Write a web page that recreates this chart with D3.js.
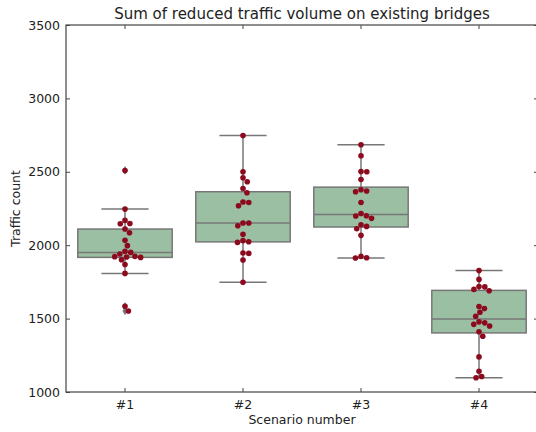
<!DOCTYPE html>
<html>
<head>
<meta charset="utf-8">
<script src="https://cdn.jsdelivr.net/npm/d3@7"></script>
<style>
  body { margin: 0; background: #fff; }
  svg { display: block; font-family: "DejaVu Sans", sans-serif; }
</style>
</head>
<body>
<div id="main"></div>
<script>
// scenario labels
var scenarios = ["#1", "#2", "#3", "#4"];

// traffic counts per scenario
var scenario1 = [2509, 2246, 2169, 2146, 2148, 2110, 2085, 2033, 1997, 1958, 1940,
                 1951, 1922, 1917, 1920, 1924, 1901, 1869, 1808, 1584, 1552];
var scenario2 = [2747, 2500, 2459, 2432, 2386, 2357, 2291, 2269, 2294, 2151, 2133,
                 2151, 2074, 2024, 2019, 2031, 1947, 1944, 1899, 1747];
var scenario3 = [2684, 2609, 2502, 2500, 2448, 2369, 2364, 2378, 2291, 2216, 2199,
                 2183, 2201, 2128, 2112, 2139, 2067, 1915, 1913, 1924];
var scenario4 = [1827, 1767, 1718, 1716, 1699, 1690, 1582, 1568, 1543, 1516, 1478,
                 1471, 1461, 1450, 1410, 1380, 1239, 1141, 1097, 1106];

var yTicks = [1000, 1500, 2000, 2500, 3000, 3500];

var groups = [scenario1, scenario2, scenario3, scenario4];

//Width and height
var w = 536;
var h = 432;
var margin = {top: 25, right: -2, bottom: 40, left: 66};
var innerW = w - margin.left - margin.right;
var innerH = h - margin.top - margin.bottom;

var svg = d3.select("#main")
    .append("svg")
    .attr("width", w)
    .attr("height", h);

var g = svg.append("g")
    .attr("transform", "translate(" + margin.left + "," + margin.top + ")");

var x = d3.scaleBand()
    .domain(scenarios)
    .range([0, innerW])
    .padding(0);

var y = d3.scaleLinear()
    .domain([1000, 3500])
    .range([innerH, 0]);

var boxFill = "#9bbfa2";
var lineCol = "#777777";
var dotCol = "#8c0a1e";
var r = 2.8;

// box stats, like matplotlib (linear quantiles, 1.5 IQR whiskers)
function stats(vals) {
    var s = vals.slice().sort(d3.ascending);
    var q1 = d3.quantileSorted(s, 0.25);
    var med = d3.quantileSorted(s, 0.5);
    var q3 = d3.quantileSorted(s, 0.75);
    var iqr = q3 - q1;
    var lo = d3.min(s.filter(function(v) { return v >= q1 - 1.5 * iqr; }));
    var hi = d3.max(s.filter(function(v) { return v <= q3 + 1.5 * iqr; }));
    var fliers = s.filter(function(v) { return v < lo || v > hi; });
    return {q1: q1, med: med, q3: q3, lo: lo, hi: hi, fliers: fliers};
}

// beeswarm, seaborn style: closest free spot to the center
function swarm(vals) {
    var pts = vals.map(function(v) { return {v: v, py: y(v), dx: 0}; });
    pts.sort(function(a, b) { return a.py - b.py; });
    var d = 2 * r + 0.2;
    var placed = [];
    pts.forEach(function(p) {
        var near = placed.filter(function(q) { return Math.abs(q.py - p.py) < d; });
        var cands = [0];
        near.forEach(function(q) {
            var off = Math.sqrt(d * d - (q.py - p.py) * (q.py - p.py));
            cands.push(q.dx + off, q.dx - off);
        });
        cands.sort(function(a, b) { return Math.abs(a) - Math.abs(b) || b - a; });
        for (var i = 0; i < cands.length; i++) {
            var c = cands[i];
            var ok = near.every(function(q) {
                var ddx = q.dx - c, ddy = q.py - p.py;
                return ddx * ddx + ddy * ddy >= d * d - 0.01;
            });
            if (ok) { p.dx = c; break; }
        }
        placed.push(p);
    });
    return pts;
}

groups.forEach(function(vals, i) {
    var st = stats(vals);
    var cx = x(scenarios[i]) + x.bandwidth() / 2;
    var bw = x.bandwidth() * 0.8;
    var gg = g.append("g");

    // whiskers
    gg.append("line")
        .attr("x1", cx).attr("x2", cx)
        .attr("y1", y(st.hi)).attr("y2", y(st.q3))
        .attr("stroke", lineCol).attr("stroke-width", 1.5);
    gg.append("line")
        .attr("x1", cx).attr("x2", cx)
        .attr("y1", y(st.q1)).attr("y2", y(st.lo))
        .attr("stroke", lineCol).attr("stroke-width", 1.5);
    // caps
    [st.hi, st.lo].forEach(function(v) {
        gg.append("line")
            .attr("x1", cx - bw / 4).attr("x2", cx + bw / 4)
            .attr("y1", y(v)).attr("y2", y(v))
            .attr("stroke", lineCol).attr("stroke-width", 1.5);
    });
    // box
    gg.append("rect")
        .attr("x", cx - bw / 2)
        .attr("y", y(st.q3))
        .attr("width", bw)
        .attr("height", y(st.q1) - y(st.q3))
        .attr("fill", boxFill)
        .attr("stroke", lineCol)
        .attr("stroke-width", 1.5);
    // median
    gg.append("line")
        .attr("x1", cx - bw / 2).attr("x2", cx + bw / 2)
        .attr("y1", y(st.med)).attr("y2", y(st.med))
        .attr("stroke", lineCol).attr("stroke-width", 1.5);
    // fliers
    gg.selectAll("path.flier")
        .data(st.fliers)
        .enter()
        .append("path")
        .attr("class", "flier")
        .attr("d", d3.symbol().type(d3.symbolDiamond).size(22))
        .attr("transform", function(d) { return "translate(" + cx + "," + y(d) + ")"; })
        .attr("fill", lineCol);

    // swarm points
    gg.selectAll("circle")
        .data(swarm(vals))
        .enter()
        .append("circle")
        .attr("cx", function(d) { return cx + d.dx; })
        .attr("cy", function(d) { return d.py; })
        .attr("r", r)
        .attr("fill", dotCol);
});

// axes, ticks inside
var axCol = "#444";
var yAxis = g.append("g").call(d3.axisLeft(y).tickValues(yTicks).tickSize(-4).tickPadding(6)
    .tickFormat(d3.format("d")));
var yAxisR = g.append("g").attr("transform", "translate(" + innerW + ",0)")
    .call(d3.axisRight(y).tickValues(yTicks).tickSize(-4).tickFormat(""));
var xAxis = g.append("g").attr("transform", "translate(0," + innerH + ")")
    .call(d3.axisBottom(x).tickSize(-4).tickPadding(8));
var xAxisT = g.append("g")
    .call(d3.axisTop(x).tickSize(-4).tickFormat(""));

[yAxis, yAxisR, xAxis, xAxisT].forEach(function(a) {
    a.select(".domain").remove();
    a.selectAll(".tick line").attr("stroke", axCol);
    a.selectAll("text").attr("fill", "#222").style("font-size", "12.5px")
        .style("font-family", "DejaVu Sans, sans-serif");
});

// frame
g.append("rect")
    .attr("x", 0).attr("y", 0)
    .attr("width", innerW).attr("height", innerH)
    .attr("fill", "none")
    .attr("stroke", axCol)
    .attr("stroke-width", 1.2);

// title
svg.append("text")
    .attr("x", margin.left + innerW / 2)
    .attr("y", 19)
    .attr("text-anchor", "middle")
    .style("font-size", "15px")
    .attr("fill", "#222")
    .text("Sum of reduced traffic volume on existing bridges");

svg.append("text")
    .attr("x", margin.left + innerW / 2)
    .attr("y", 424)
    .attr("text-anchor", "middle")
    .style("font-size", "12.5px")
    .attr("fill", "#222")
    .text("Scenario number");

svg.append("text")
    .attr("transform", "translate(20," + (margin.top + innerH / 2) + ") rotate(-90)")
    .attr("text-anchor", "middle")
    .style("font-size", "12.5px")
    .attr("fill", "#222")
    .text("Traffic count");
</script>
</body>
</html>
